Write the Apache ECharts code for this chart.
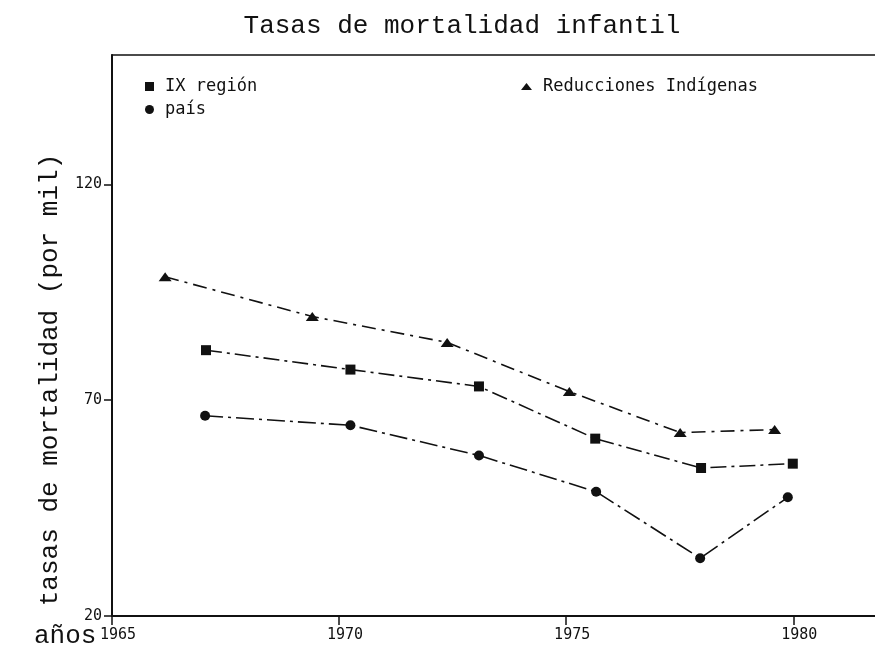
<!DOCTYPE html>
<html>
<head>
<meta charset="utf-8">
<script src="https://cdn.jsdelivr.net/npm/echarts@6/dist/echarts.min.js"></script>
<style>
  html, body { margin: 0; padding: 0; background: #fff; }
  #chart { width: 875px; height: 650px; }
</style>
</head>
<body>
<div id="chart"></div>
<script>
// values
var yearsRed = [1966.17, 1969.41, 1972.38, 1975.07, 1977.51, 1979.59];
var reducciones = [98.6, 89.4, 83.4, 72.0, 62.5, 63.2];

var yearsIX = [1967.07, 1970.25, 1973.08, 1975.64, 1977.97, 1979.99];
var ixRegion = [81.6, 77.1, 73.2, 61.1, 54.3, 55.3];

var yearsPais = [1967.05, 1970.25, 1973.08, 1975.66, 1977.95, 1979.88];
var pais = [66.4, 64.2, 57.2, 48.8, 33.4, 47.5];

var xTicks = [1965, 1970, 1975, 1980];
var yTicks = [20, 70, 120];

function pairs(xs, ys) {
  return xs.map(function (x, i) { return [x, ys[i]]; });
}

var mono = "'Liberation Mono', 'DejaVu Sans Mono', monospace";
var plotter = "'DejaVu Sans Mono', monospace";

var chart = echarts.init(document.getElementById("chart"));

chart.setOption({
  animation: false,
  backgroundColor: "#fff",
  title: {
    text: "Tasas de mortalidad infantil",
    left: 457,
    top: 8,
    textAlign: "center",
    textStyle: { fontFamily: mono, fontSize: 26, fontWeight: "normal", color: "#111" }
  },
  legend: [
    {
      orient: "vertical",
      left: 140,
      top: 73,
      itemGap: 6,
      itemWidth: 9,
      itemHeight: 9,
      textStyle: { fontFamily: plotter, fontSize: 17, color: "#111", padding: [0, 0, 0, 6] },
      data: [
        { name: "IX región", icon: "rect" },
        { name: "país", icon: "circle" }
      ]
    },
    {
      left: 516,
      top: 73,
      itemWidth: 11,
      itemHeight: 7,
      textStyle: { fontFamily: plotter, fontSize: 17, color: "#111", padding: [0, 0, 0, 6] },
      data: [{ name: "Reducciones Indígenas", icon: "triangle" }]
    }
  ],
  grid: { left: 112, right: 0, top: 55, bottom: 34 },
  xAxis: [
    {
      type: "value",
      min: 1965,
      max: 1981.8,
      axisLine: { show: true, lineStyle: { color: "#111", width: 2 } },
      axisTick: { show: true, length: 9, customValues: xTicks, lineStyle: { color: "#111", width: 1.5 } },
      axisLabel: {
        customValues: xTicks,
        formatter: function (v) { return String(v); },
        margin: 12,
        padding: [0, 0, 0, 12],
        fontFamily: plotter,
        fontSize: 15,
        color: "#111"
      },
      splitLine: { show: false }
    },
    {
      type: "value",
      position: "top",
      min: 1965,
      max: 1981.8,
      axisLine: { show: true, lineStyle: { color: "#111", width: 1.5 } },
      axisTick: { show: false },
      axisLabel: { show: false },
      splitLine: { show: false }
    }
  ],
  yAxis: {
    type: "value",
    min: 20,
    max: 150,
    axisLine: { show: true, lineStyle: { color: "#111", width: 2 } },
    axisTick: { show: true, length: 8, customValues: yTicks, lineStyle: { color: "#111", width: 1.5 } },
    axisLabel: {
      customValues: yTicks,
      margin: 10,
      fontFamily: plotter,
      fontSize: 15,
      color: "#111"
    },
    splitLine: { show: false }
  },
  graphic: [
    {
      type: "text",
      x: 50,
      y: 380,
      rotation: Math.PI / 2,
      style: {
        text: "tasas de mortalidad (por mil)",
        font: "26px " + mono,
        fill: "#111",
        align: "center",
        verticalAlign: "middle"
      }
    },
    {
      type: "text",
      left: 34,
      top: 623,
      style: { text: "años", font: "26px " + mono, fill: "#111" }
    }
  ],
  series: [
    {
      name: "IX región",
      type: "line",
      data: pairs(yearsIX, ixRegion),
      symbol: "rect",
      symbolSize: 10,
      itemStyle: { color: "#111" },
      lineStyle: { color: "#111", width: 1.6, type: [16, 5, 3, 5] }
    },
    {
      name: "país",
      type: "line",
      data: pairs(yearsPais, pais),
      symbol: "circle",
      symbolSize: 10,
      itemStyle: { color: "#111" },
      lineStyle: { color: "#111", width: 1.6, type: [18, 5, 3, 5] }
    },
    {
      name: "Reducciones Indígenas",
      type: "line",
      data: pairs(yearsRed, reducciones),
      symbol: "triangle",
      symbolSize: [13, 9],
      itemStyle: { color: "#111" },
      lineStyle: { color: "#111", width: 1.6, type: [14, 6, 3, 6] }
    }
  ]
});
</script>
</body>
</html>
